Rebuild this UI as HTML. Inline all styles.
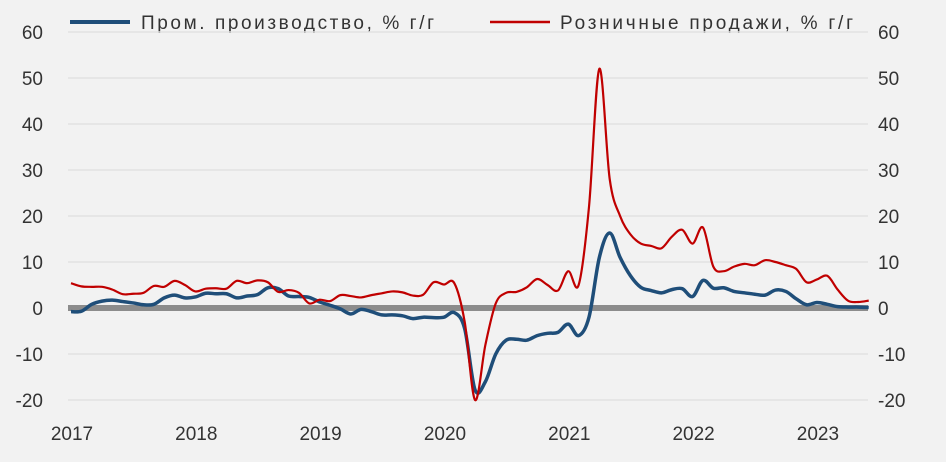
<!DOCTYPE html>
<html><head><meta charset="utf-8"><style>
body{margin:0;background:#f2f2f2;}
svg{display:block;font-family:"Liberation Sans",sans-serif;}
</style></head><body>
<svg id="c" width="946" height="462">
<rect width="946" height="462" fill="#f2f2f2"/>
<g>
<line x1="70" y1="22" x2="130" y2="22" stroke="#1f4e79" stroke-width="4"/>
<text x="141" y="29" font-size="19" fill="#333" textLength="293" lengthAdjust="spacing">Пром. производство, % г/г</text>
<line x1="490" y1="22" x2="550" y2="22" stroke="#c00000" stroke-width="2.5"/>
<text x="560" y="29" font-size="19" fill="#333" textLength="293" lengthAdjust="spacing">Розничные продажи, % г/г</text>
</g>
<g id="grid"></g><g id="axes"></g><g id="series"></g>
</svg>
<script>
const yTicks=[60,50,40,30,20,10,0,-10,-20];
const yearLabels=["2017","2018","2019","2020","2021","2022","2023"];
const retail=[5.4,4.7,4.6,4.6,4.0,3.0,3.1,3.3,4.8,4.6,5.9,5.0,
3.6,4.2,4.3,4.2,5.9,5.4,6.0,5.6,3.5,3.9,3.3,1.0,
1.8,1.5,2.8,2.6,2.3,2.8,3.2,3.6,3.4,2.7,2.9,5.6,
5.1,5.4,-3,-20,-8,1,3.3,3.5,4.5,6.3,5,3.8,
8,5,22,52,28,20,16,14,13.5,13,15.5,17,
14,17.5,9,8,9,9.6,9.3,10.4,10,9.3,8.5,5.6,
6.2,7,4,1.6,1.3,1.6];
const industrial=[-0.8,-0.7,0.8,1.5,1.7,1.4,1.1,0.7,0.8,2.2,2.8,2.2,
2.4,3.2,3.1,3.1,2.2,2.6,2.9,4.4,4.2,2.6,2.5,2.3,
1.3,0.6,-0.2,-1.3,-0.3,-0.8,-1.5,-1.5,-1.7,-2.3,-2.0,-2.1,
-2.0,-1.0,-4.5,-17.8,-16,-10,-7,-6.8,-7,-6,-5.5,-5.3,
-3.5,-6,-2,11,16.3,11,7,4.5,3.8,3.3,4,4.2,
2.5,6,4.3,4.4,3.6,3.3,3.0,2.8,3.9,3.6,2.0,0.7,
1.2,0.8,0.3,0.2,0.2,0.1];
const NS="http://www.w3.org/2000/svg";
const X0=71,DX=10.36,PL=68,PR=868;
const xs=i=>X0+i*DX;
const ys=v=>308-v*4.6;
const g=document.getElementById('grid'),a=document.getElementById('axes'),s=document.getElementById('series');
function mk(t,at,p){const e=document.createElementNS(NS,t);for(const k in at)e.setAttribute(k,at[k]);p.appendChild(e);return e;}
yTicks.forEach(v=>{
 if(v!==0){const l=mk('line',{x1:PL,x2:PR,y1:ys(v),y2:ys(v),stroke:'#e2e2e2','stroke-width':1.5},g);
 
 }
 const t1=mk('text',{x:43,y:ys(v)+7,'font-size':19,fill:'#333','text-anchor':'end'},a);t1.textContent=v;
 
 
 const t2=mk('text',{x:878,y:ys(v)+7,'font-size':19,fill:'#333'},a);t2.textContent=v;
 
 
});
yearLabels.forEach((y,k)=>{
 const t=mk('text',{x:xs(k*12)+1,y:440,'font-size':19,fill:'#333','text-anchor':'middle'},a);t.textContent=y;
 
 
});
function path(d){const p=d.map((v,i)=>[xs(i),ys(v)]);let s='M'+p[0][0]+','+p[0][1];
 for(let i=0;i<p.length-1;i++){const p0=p[i-1]||p[i],p1=p[i],p2=p[i+1],p3=p[i+2]||p2;
 s+=' C'+(p1[0]+(p2[0]-p0[0])/6)+','+(p1[1]+(p2[1]-p0[1])/6)+' '+(p2[0]-(p3[0]-p1[0])/6)+','+(p2[1]-(p3[1]-p1[1])/6)+' '+p2[0]+','+p2[1];}
 return s;}
const bl=mk('path',{d:path(industrial),fill:'none',stroke:'#1f4e79','stroke-width':3.5,'stroke-linejoin':'round'},s);


const rl=mk('path',{d:path(retail),fill:'none',stroke:'#c00000','stroke-width':2.2,'stroke-linejoin':'round'},s);


const z=mk('line',{x1:PL,x2:PR,y1:ys(0),y2:ys(0),stroke:'#8c8c8c','stroke-width':6},g);


</script>
</body></html>
